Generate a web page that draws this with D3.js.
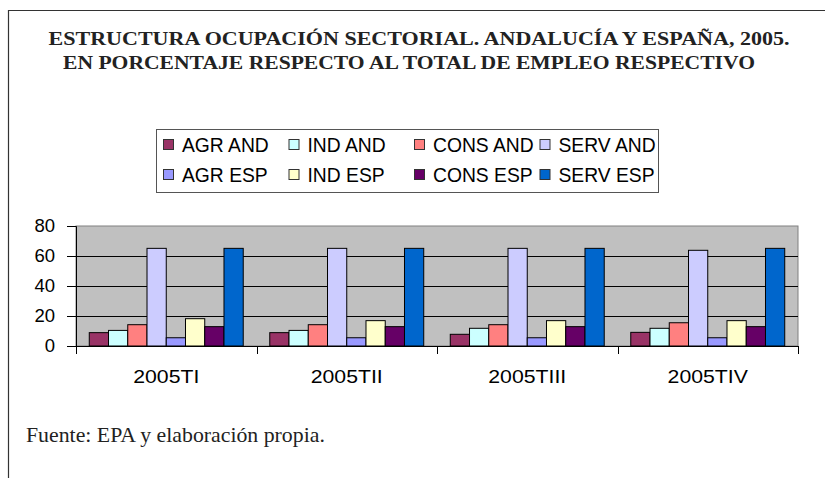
<!DOCTYPE html>
<html>
<head>
<meta charset="utf-8">
<script src="https://cdnjs.cloudflare.com/ajax/libs/d3/7.8.5/d3.min.js"></script>
<style>
  html, body { margin: 0; padding: 0; background: #fff; }
  svg { display: block; }
</style>
</head>
<body>
<div id="chart"></div>
<script>
var categories = ['2005TI', '2005TII', '2005TIII', '2005TIV']
var seriesNames = ['AGR AND', 'IND AND', 'CONS AND', 'SERV AND', 'AGR ESP', 'IND ESP', 'CONS ESP', 'SERV ESP']
var seriesColors = ['#993366', '#CCFFFF', '#FF8080', '#CCCCFF', '#9999FF', '#FFFFCC', '#660066', '#0066CC']

// one array per series, one value per quarter
var agrAnd  = [8.9, 8.9, 7.8, 9.1]
var indAnd  = [10.4, 10.4, 11.8, 11.8]
var consAnd = [14.2, 14.2, 14.2, 15.5]
var servAnd = [65.1, 65.1, 65.1, 63.8]
var agrEsp  = [5.5, 5.5, 5.5, 5.5]
var indEsp  = [18.2, 16.9, 16.9, 16.9]
var consEsp = [12.9, 12.9, 12.9, 12.9]
var servEsp = [65.1, 65.1, 65.1, 65.1]

var yTicks = [0, 20, 40, 60, 80]

var titleLines = [
  'ESTRUCTURA OCUPACIÓN SECTORIAL. ANDALUCÍA Y ESPAÑA, 2005.',
  'EN PORCENTAJE RESPECTO AL TOTAL DE EMPLEO RESPECTIVO'
]
var source = 'Fuente: EPA y elaboración propia.'

var seriesValues = [agrAnd, indAnd, consAnd, servAnd, agrEsp, indEsp, consEsp, servEsp]

var width = 825
var height = 478
var plot = {left: 76, right: 798, top: 226, bottom: 346}
var sans = 'Liberation Sans, Arial, sans-serif'
var serif = 'Liberation Serif, Times New Roman, serif'

var svg = d3.select('#chart')
  .append('svg')
  .attr('width', width)
  .attr('height', height)

// outer frame (only top and left edges visible)
svg.append('path')
  .attr('d', 'M8.5,' + height + ' L8.5,10.5 L' + width + ',10.5')
  .attr('fill', 'none')
  .attr('stroke', '#333')
  .attr('stroke-width', 1.2)

// title, stretched a little to the width it has in the original
var titleWidths = [741, 692]
svg.selectAll('text.title')
  .data(titleLines)
  .enter().append('text')
  .attr('class', 'title')
  .attr('x', (d, i) => i == 0 ? 419 : 409)
  .attr('y', (d, i) => 45 + i * 24)
  .attr('text-anchor', 'middle')
  .attr('font-family', serif)
  .attr('font-weight', 'bold')
  .attr('font-size', 19.5)
  .attr('fill', '#222')
  .attr('textLength', (d, i) => titleWidths[i])
  .attr('lengthAdjust', 'spacingAndGlyphs')
  .text(d => d)

// legend
var legend = svg.append('g')
legend.append('rect')
  .attr('x', 156.5)
  .attr('y', 129.5)
  .attr('width', 502)
  .attr('height', 63)
  .attr('fill', '#fff')
  .attr('stroke', '#555')

var item = legend.selectAll('g.item')
  .data(seriesNames)
  .enter().append('g')
  .attr('class', 'item')
  .attr('transform', (d, i) => `translate(${163 + (i % 4) * 125.5}, ${145 + Math.floor(i / 4) * 30})`)

item.append('rect')
  .attr('x', 0.5)
  .attr('y', -5.5)
  .attr('width', 10)
  .attr('height', 10)
  .attr('fill', (d, i) => seriesColors[i])
  .attr('stroke', '#333')

item.append('text')
  .attr('x', 19)
  .attr('y', 6.5)
  .attr('font-family', sans)
  .attr('font-size', 19.3)
  .attr('fill', '#000')
  .text(d => d)

// scales
var x0 = d3.scaleBand()
  .domain(categories)
  .range([plot.left, plot.right])
  .paddingInner(0.147)
  .paddingOuter(0.0735)

var x1 = d3.scaleBand()
  .domain(d3.range(seriesNames.length))
  .range([0, x0.bandwidth()])

var y = d3.scaleLinear()
  .domain([0, 80])
  .range([plot.bottom, plot.top])

// plot area
svg.append('rect')
  .attr('x', plot.left)
  .attr('y', plot.top)
  .attr('width', plot.right - plot.left)
  .attr('height', plot.bottom - plot.top)
  .attr('fill', '#C0C0C0')
  .attr('stroke', '#808080')

svg.append('g')
  .selectAll('line')
  .data(yTicks.filter(t => t > 0 && t < 80))
  .enter().append('line')
  .attr('x1', plot.left)
  .attr('x2', plot.right)
  .attr('y1', d => Math.round(y(d)) + 0.5)
  .attr('y2', d => Math.round(y(d)) + 0.5)
  .attr('stroke', '#000')
  .attr('stroke-width', 1)

// bars
var groups = svg.append('g')
  .selectAll('g')
  .data(categories)
  .enter().append('g')
  .attr('transform', d => `translate(${x0(d)}, 0)`)

groups.selectAll('rect')
  .data((c, ci) => seriesValues.map((vals, si) => ({s: si, v: vals[ci]})))
  .enter().append('rect')
  .attr('x', d => x1(d.s))
  .attr('y', d => y(d.v))
  .attr('width', x1.bandwidth())
  .attr('height', d => y(0) - y(d.v))
  .attr('fill', d => seriesColors[d.s])
  .attr('stroke', '#000')
  .attr('stroke-width', 1)

// y axis
var yAxis = svg.append('g')
  .attr('transform', `translate(${plot.left}, 0)`)
  .call(d3.axisLeft(y).tickValues(yTicks).tickSize(9).tickPadding(12))
yAxis.selectAll('text')
  .attr('font-family', sans)
  .attr('font-size', 18.5)
  .attr('fill', '#000')
yAxis.selectAll('line').attr('stroke', '#000')
yAxis.select('.domain').attr('stroke', '#000')

// x axis: labels centred, ticks on category boundaries
var xAxis = svg.append('g')
  .attr('transform', `translate(0, ${plot.bottom})`)
  .call(d3.axisBottom(x0).tickSize(0).tickPadding(24))
xAxis.select('.domain').attr('stroke', '#000')
xAxis.selectAll('text')
  .attr('font-family', sans)
  .attr('font-size', 18)
  .attr('fill', '#000')
  .each(function () {
    // the original labels are drawn wider than the font's natural width
    var w = this.getComputedTextLength()
    d3.select(this).attr('textLength', w * 1.18).attr('lengthAdjust', 'spacingAndGlyphs')
  })

var step = x0.step()
var bounds = categories.map(c => x0(c) - step * 0.0735).concat([plot.right])
xAxis.selectAll('line.bound')
  .data(bounds)
  .enter().append('line')
  .attr('class', 'bound')
  .attr('x1', d => Math.round(d) + 0.5)
  .attr('x2', d => Math.round(d) + 0.5)
  .attr('y1', 0)
  .attr('y2', 8)
  .attr('stroke', '#000')

// source
svg.append('text')
  .attr('x', 26)
  .attr('y', 442)
  .attr('font-family', serif)
  .attr('font-size', 21.8)
  .attr('fill', '#222')
  .text(source)
</script>
</body>
</html>
